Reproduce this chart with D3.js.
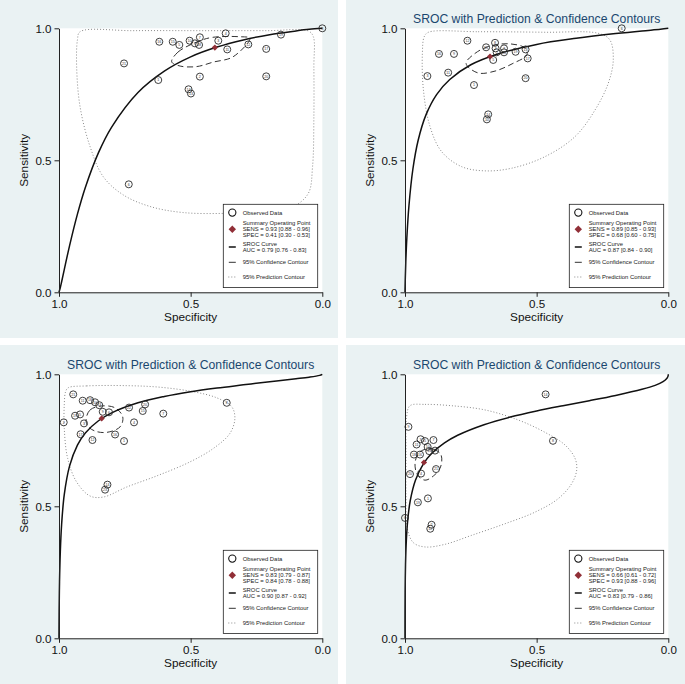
<!DOCTYPE html>
<html><head><meta charset="utf-8">
<script src="https://cdn.jsdelivr.net/npm/d3@7"></script>
<style>html,body{margin:0;padding:0;background:#fff;} svg{display:block;font-family:"Liberation Sans",Arial,sans-serif;}</style>
</head><body><svg id="c" width="685" height="684"></svg>
<script>
// ---------- DATA ----------
// observed studies: [label, specificity, sensitivity]
const obs1 = [["21",0.753,0.867],["16",0.619,0.949],["15",0.568,0.949],["5",0.543,0.937],["10",0.504,0.953],["7",0.465,0.966],["9",0.484,0.943],["18",0.468,0.937],["3",0.395,0.953],["4",0.367,0.981],["11",0.361,0.920],["12",0.281,0.939],["17",0.213,0.922],["19",0.157,0.976],["8",0.0,1.0],["1",0.623,0.804],["2",0.465,0.817],["14",0.508,0.769],["13",0.499,0.753],["20",0.213,0.818],["6",0.735,0.409]];
const obs2 = [["12",0.763,0.953],["16",0.871,0.903],["9",0.814,0.903],["3",0.915,0.819],["11",0.836,0.832],["1",0.738,0.785],["8",0.658,0.945],["15",0.692,0.928],["4",0.656,0.924],["2",0.652,0.909],["7",0.624,0.924],["18",0.624,0.909],["19",0.580,0.911],["13",0.542,0.920],["17",0.534,0.886],["5",0.665,0.880],["20",0.542,0.811],["14",0.684,0.674],["10",0.689,0.655],["6",0.177,1.0]];
const obs3 = [["21",0.946,0.924],["11",0.910,0.900],["18",0.882,0.902],["10",0.863,0.894],["13",0.847,0.883],["9",0.834,0.858],["6",0.810,0.856],["2",0.982,0.818],["19",0.939,0.843],["5",0.920,0.848],["3",0.905,0.814],["17",0.918,0.773],["12",0.873,0.751],["16",0.787,0.772],["1",0.753,0.747],["4",0.715,0.818],["22",0.734,0.874],["20",0.673,0.886],["15",0.682,0.861],["7",0.604,0.851],["8",0.363,0.892],["14",0.816,0.582],["23",0.825,0.563]];
const obs4 = [["14",0.466,0.924],["8",0.438,0.748],["9",0.987,0.801],["3",0.941,0.754],["11",0.956,0.734],["5",0.924,0.747],["7",0.892,0.751],["10",0.914,0.725],["13",0.908,0.709],["17",0.886,0.711],["18",0.966,0.696],["16",0.943,0.696],["20",0.981,0.622],["4",0.939,0.624],["21",0.882,0.641],["1",0.913,0.530],["19",0.951,0.515],["2",0.899,0.430],["12",0.904,0.415],["6",1.0,0.456]];

// summary operating points [spec, sens]
const summary1 = [0.408,0.927];
const summary2 = [0.677,0.893];
const summary3 = [0.838,0.833];
const summary4 = [0.928,0.666];

// SROC curves [spec, sens]
const sroc1 = [[1,0],[0.995,0.018],[0.99,0.040],[0.98,0.086],[0.96,0.176],[0.93,0.296],[0.90,0.397],[0.85,0.529],[0.80,0.626],[0.70,0.757],[0.60,0.838],[0.50,0.892],[0.40,0.929],[0.30,0.956],[0.20,0.976],[0.10,0.990],[0.05,0.996],[0,1]];
const sroc2 = [[1,0],[0.9999,0.008],[0.999,0.049],[0.997,0.114],[0.993,0.206],[0.985,0.328],[0.97,0.467],[0.95,0.576],[0.92,0.673],[0.88,0.749],[0.83,0.806],[0.75,0.862],[0.65,0.902],[0.5,0.939],[0.35,0.962],[0.2,0.980],[0.1,0.990],[0.03,0.996],[0,1]];
const sroc3 = [[1,0],[0.99999,0.009],[0.9999,0.039],[0.9995,0.101],[0.998,0.214],[0.995,0.328],[0.99,0.432],[0.98,0.544],[0.96,0.652],[0.93,0.732],[0.90,0.778],[0.85,0.824],[0.80,0.854],[0.70,0.892],[0.60,0.916],[0.50,0.934],[0.40,0.948],[0.30,0.960],[0.20,0.972],[0.10,0.983],[0.05,0.989],[0.01,0.996],[0,1]];
const sroc4 = [[1,0],[0.99999,0.036],[0.9999,0.093],[0.9995,0.173],[0.998,0.280],[0.995,0.369],[0.99,0.444],[0.98,0.522],[0.96,0.600],[0.93,0.661],[0.90,0.699],[0.85,0.740],[0.80,0.769],[0.70,0.809],[0.60,0.838],[0.50,0.861],[0.40,0.881],[0.30,0.900],[0.20,0.920],[0.10,0.943],[0.05,0.958],[0.02,0.972],[0.005,0.985],[0.001,0.993],[0,1]];

// 95% confidence contours [spec, sens]
const conf1 = [[0.572,0.873],[0.548,0.910],[0.464,0.953],[0.415,0.966],[0.313,0.968],[0.275,0.962],[0.339,0.892],[0.414,0.872],[0.477,0.855],[0.540,0.857]];
const conf2 = [[0.768,0.867],[0.734,0.905],[0.677,0.933],[0.601,0.941],[0.544,0.925],[0.537,0.899],[0.590,0.867],[0.658,0.838],[0.723,0.831]];
const conf3 = [[0.897,0.830],[0.882,0.865],[0.838,0.880],[0.787,0.873],[0.758,0.839],[0.768,0.801],[0.819,0.780],[0.863,0.785],[0.891,0.804]];
const conf4 = [[0.924,0.716],[0.889,0.716],[0.863,0.694],[0.865,0.649],[0.892,0.615],[0.924,0.599],[0.952,0.618],[0.962,0.662],[0.949,0.700]];

// 95% prediction contours [spec, sens]
const pred1 = [[0.920,0.987],[0.718,0.991],[0.465,0.991],[0.211,0.991],[0.053,0.990],[0.034,0.968],[0.032,0.855],[0.032,0.665],[0.037,0.476],[0.053,0.375],[0.110,0.325],[0.211,0.306],[0.363,0.299],[0.528,0.302],[0.654,0.325],[0.756,0.369],[0.832,0.438],[0.882,0.552],[0.920,0.703],[0.933,0.855],[0.930,0.956]];
const pred2 = [[0.911,0.985],[0.722,0.987],[0.468,0.985],[0.266,0.981],[0.222,0.956],[0.209,0.880],[0.228,0.792],[0.278,0.691],[0.354,0.590],[0.468,0.514],[0.595,0.470],[0.696,0.460],[0.785,0.476],[0.861,0.533],[0.905,0.628],[0.930,0.766],[0.934,0.905],[0.927,0.968]];
const pred3 = [[0.965,0.949],[0.895,0.956],[0.743,0.957],[0.616,0.951],[0.490,0.934],[0.401,0.911],[0.344,0.877],[0.332,0.833],[0.351,0.776],[0.414,0.719],[0.503,0.668],[0.629,0.615],[0.743,0.573],[0.832,0.535],[0.882,0.539],[0.933,0.592],[0.967,0.681],[0.980,0.795],[0.980,0.884],[0.975,0.934]];
const pred4 = [[0.981,0.881],[0.924,0.886],[0.823,0.881],[0.696,0.865],[0.570,0.827],[0.468,0.780],[0.392,0.732],[0.354,0.681],[0.348,0.637],[0.367,0.586],[0.418,0.529],[0.506,0.478],[0.620,0.434],[0.747,0.390],[0.848,0.356],[0.924,0.346],[0.968,0.362],[0.991,0.415],[0.996,0.542],[0.996,0.706],[0.994,0.839]];

// legend texts
const sensText = ["SENS = 0.93 [0.88 - 0.96]","SENS = 0.89 [0.85 - 0.93]","SENS = 0.83 [0.79 - 0.87]","SENS = 0.66 [0.61 - 0.72]"];
const specText = ["SPEC = 0.41 [0.30 - 0.53]","SPEC = 0.68 [0.60 - 0.75]","SPEC = 0.84 [0.78 - 0.88]","SPEC = 0.93 [0.88 - 0.96]"];
const aucText  = ["AUC = 0.79 [0.76 - 0.83]","AUC = 0.87 [0.84 - 0.90]","AUC = 0.90 [0.87 - 0.92]","AUC = 0.83 [0.79 - 0.86]"];
const titles = ["","SROC with Prediction & Confidence Contours","SROC with Prediction & Confidence Contours","SROC with Prediction & Confidence Contours"];
const tickValues = [0, 0.5, 1];
const tickLabels = ["0.0","0.5","1.0"];
const xTitle = "Specificity", yTitle = "Sensitivity";
const legendLabels = ["Observed Data","Summary Operating Point","SROC Curve","95% Confidence Contour","95% Prediction Contour"];

// ---------- DRAW ----------
const svg = d3.select("#c");
svg.append("rect").attr("width",685).attr("height",684).attr("fill","#ffffff");

const panels = [
  {obs:obs1, sum:summary1, sroc:sroc1, conf:conf1, pred:pred1},
  {obs:obs2, sum:summary2, sroc:sroc2, conf:conf2, pred:pred2},
  {obs:obs3, sum:summary3, sroc:sroc3, conf:conf3, pred:pred3},
  {obs:obs4, sum:summary4, sroc:sroc4, conf:conf4, pred:pred4}
];
const layout = [
  {bx:0,by:0,bw:338,bh:338,pl:59,pt:28.3},
  {bx:346,by:0,bw:339,bh:338,pl:405,pt:28.3},
  {bx:0,by:345,bw:338,bh:339,pl:59,pt:374.3},
  {bx:346,by:345,bw:339,bh:339,pl:405,pt:374.3}
];
const PW = 263.3, PH = 264;
const BG = "#eaf2f3";

function diamond(g, cx, cy, h, fill){
  g.append("path").attr("d",`M${cx},${cy-h}L${cx+h},${cy}L${cx},${cy+h}L${cx-h},${cy}Z`).attr("fill",fill);
}

panels.forEach((p,i)=>{
  const L = layout[i];
  const g = svg.append("g");
  g.append("rect").attr("x",L.bx).attr("y",L.by).attr("width",L.bw).attr("height",L.bh).attr("fill",BG);
  g.append("rect").attr("x",L.pl).attr("y",L.pt).attr("width",PW).attr("height",PH).attr("fill","#fff");

  const x = d3.scaleLinear().domain([1,0]).range([L.pl, L.pl+PW]);
  const y = d3.scaleLinear().domain([0,1]).range([L.pt+PH, L.pt]);

  const closed = d3.line().x(d=>x(d[0])).y(d=>y(d[1])).curve(d3.curveCatmullRomClosed.alpha(0.5));
  const open = d3.line().x(d=>x(d[0])).y(d=>y(d[1])).curve(d3.curveCatmullRom.alpha(0.5));

  // prediction contour
  g.append("path").attr("d",closed(p.pred)).attr("fill","none").attr("stroke","#8a8a8a")
    .attr("stroke-width",1).attr("stroke-dasharray","1,2");
  // confidence contour
  g.append("path").attr("d",closed(p.conf)).attr("fill","none").attr("stroke","#333")
    .attr("stroke-width",1).attr("stroke-dasharray","6,3.5");
  // SROC curve
  g.append("path").attr("d",open(p.sroc)).attr("fill","none").attr("stroke","#111")
    .attr("stroke-width",1.5);

  // observed
  const og = g.append("g");
  p.obs.forEach(o=>{
    og.append("circle").attr("cx",x(o[1])).attr("cy",y(o[2])).attr("r",3.5)
      .attr("fill","none").attr("stroke","#2a2a2a").attr("stroke-width",0.9);
    og.append("text").attr("x",x(o[1])).attr("y",y(o[2])+1.3).attr("text-anchor","middle")
      .attr("font-size",3.6).attr("fill","#333").text(o[0]);
  });
  // summary
  diamond(g, x(p.sum[0]), y(p.sum[1]), 3.1, "#912f37");

  // axes
  const fmt = d=>tickLabels[tickValues.indexOf(d)];
  const ax = d3.axisBottom(x).tickValues(tickValues).tickFormat(fmt).tickSize(4.5).tickSizeOuter(0).tickPadding(2.5);
  const ay = d3.axisLeft(y).tickValues(tickValues).tickFormat(fmt).tickSize(4.5).tickSizeOuter(0).tickPadding(3);
  const gx = g.append("g").attr("transform",`translate(0,${L.pt+PH})`).call(ax);
  const gy = g.append("g").attr("transform",`translate(${L.pl},0)`).call(ay);
  [gx,gy].forEach(a=>{
    a.selectAll("path,line").attr("stroke","#222").attr("stroke-width",1);
    a.selectAll("text").attr("font-size",11.6).attr("fill","#111").attr("font-family","'Liberation Sans',Arial,sans-serif");
  });
  g.append("text").attr("x",L.pl+PW/2).attr("y",L.pt+PH+28.8).attr("text-anchor","middle")
    .attr("font-size",11.8).attr("fill","#111").text(xTitle);
  g.append("text").attr("transform",`translate(${L.pl-31},${L.pt+PH/2}) rotate(-90)`).attr("text-anchor","middle")
    .attr("font-size",11.8).attr("fill","#111").text(yTitle);
  if(titles[i]){
    g.append("text").attr("x",L.pl+PW/2).attr("y",L.pt-5.5).attr("text-anchor","middle")
      .attr("font-size",12.2).attr("fill","#1a476f").text(titles[i]);
  }

  // legend
  const bx = L.pl+PW-99, by = L.pt+PH-88;
  const lg = g.append("g");
  lg.append("rect").attr("x",bx).attr("y",by).attr("width",94.4).attr("height",83.3)
    .attr("fill","#fff").attr("stroke","#222").attr("stroke-width",0.8);
  const fs = 5.9, tx = bx+19.4;
  const T = (yy,s)=>lg.append("text").attr("x",tx).attr("y",by+yy).attr("font-size",fs).attr("fill","#222").text(s);
  lg.append("circle").attr("cx",bx+9).attr("cy",by+8.3).attr("r",3.6).attr("fill","#fff").attr("stroke","#111").attr("stroke-width",1.1);
  T(10.4, legendLabels[0]);
  diamond(lg, bx+9, by+25, 3.7, "#912f37");
  T(20.7, legendLabels[1]); T(26.7, sensText[i]); T(32.7, specText[i]);
  lg.append("line").attr("x1",bx+5.5).attr("x2",bx+12.5).attr("y1",by+42.7).attr("y2",by+42.7).attr("stroke","#111").attr("stroke-width",1.5);
  T(42.1, legendLabels[2]); T(47.9, aucText[i]);
  lg.append("line").attr("x1",bx+5.5).attr("x2",bx+12.5).attr("y1",by+58).attr("y2",by+58).attr("stroke","#333").attr("stroke-width",1);
  T(60, legendLabels[3]);
  lg.append("line").attr("x1",bx+5).attr("x2",bx+13).attr("y1",by+72.7).attr("y2",by+72.7).attr("stroke","#8a8a8a").attr("stroke-width",1).attr("stroke-dasharray","1,2");
  T(74.7, legendLabels[4]);
});
</script></body></html>
